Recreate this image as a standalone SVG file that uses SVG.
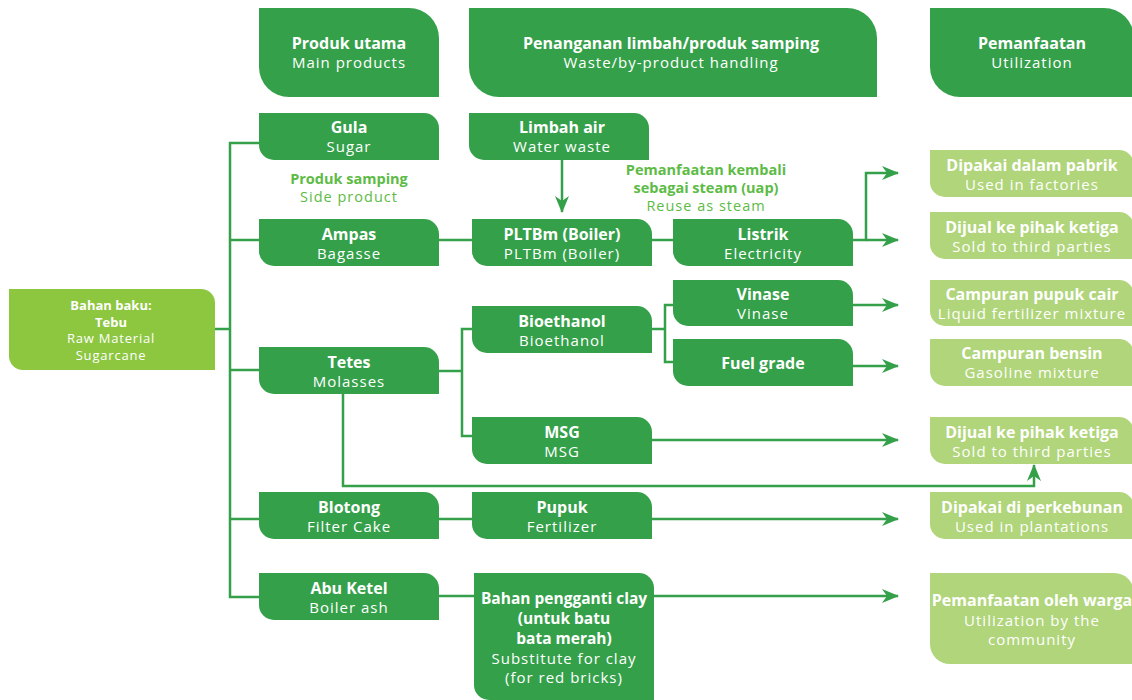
<svg xmlns="http://www.w3.org/2000/svg" width="1132" height="700" viewBox="0 0 1132 700">
  <defs>
    <marker id="arrow" markerUnits="userSpaceOnUse" markerWidth="18" markerHeight="14" refX="16" refY="7" orient="auto">
      <path d="M0,0 L17,7 L0,14 L5,7 Z" fill="#35A04A"/>
    </marker>
    <style>
      .dark { fill: #35A04A; }
      .raw { fill: #8DC63F; }
      .pale { fill: #B0D57A; }
      text { font-family: "Open Sans", "Liberation Sans", sans-serif; text-anchor: middle; fill: #ffffff; font-size: 15px; letter-spacing: 1px; }
      .b { font-weight: 700; font-size: 16px; letter-spacing: 0; }
      .sm { font-size: 13px; letter-spacing: 0.8px; }
      .b.sm { font-size: 13px; letter-spacing: 0; }
      .note { fill: #5DBB46; font-size: 14.5px; }
      .b.note { font-size: 14.5px; }
      .b.tight { font-size: 15.5px; }
      .line { fill: none; stroke: #35A04A; stroke-width: 2.5; }
    </style>
  </defs>
  <rect width="1132" height="700" fill="#ffffff"/>

  <!-- connectors -->
  <g id="connectors" class="line">
    <!-- main trunk from raw material -->
    <path d="M215,329 H230"/>
    <path d="M259,143 H230 V597 H259"/>
    <path d="M230,240 H259"/>
    <path d="M230,370 H259"/>
    <path d="M230,519 H259"/>
    <!-- water waste into boiler -->
    <path d="M562,160 V212" marker-end="url(#arrow)"/>
    <!-- bagasse chain -->
    <path d="M439,240 H472"/>
    <path d="M652,240 H673"/>
    <path d="M853,240 H866 V173 H898" marker-end="url(#arrow)"/>
    <path d="M866,240 H898" marker-end="url(#arrow)"/>
    <!-- molasses split -->
    <path d="M439,371 H462"/>
    <path d="M472,329 H462 V436 H472"/>
    <path d="M652,329 H665"/>
    <path d="M673,305 H665 V362 H673"/>
    <path d="M853,305 H898" marker-end="url(#arrow)"/>
    <path d="M853,366 H898" marker-end="url(#arrow)"/>
    <path d="M652,440 H898" marker-end="url(#arrow)"/>
    <path d="M343,394 V486 H1034 V465" marker-end="url(#arrow)"/>
    <!-- filter cake -->
    <path d="M439,519 H472"/>
    <path d="M652,519 H898" marker-end="url(#arrow)"/>
    <!-- boiler ash -->
    <path d="M439,596 H474"/>
    <path d="M654,596 H898" marker-end="url(#arrow)"/>
  </g>

  <!-- column headers -->
  <g id="hdr-main">
    <path class="dark" d="M259,8 H409 A30,30 0 0 1 439,38 V97 H289 A30,30 0 0 1 259,67 Z"/>
    <text class="b" x="349" y="49">Produk utama</text>
    <text x="349" y="68">Main products</text>
  </g>
  <g id="hdr-waste">
    <path class="dark" d="M469,8 H847 A30,30 0 0 1 877,38 V97 H499 A30,30 0 0 1 469,67 Z"/>
    <text class="b" x="671" y="49">Penanganan limbah/produk samping</text>
    <text x="671" y="68">Waste/by-product handling</text>
  </g>
  <g id="hdr-use">
    <path class="dark" d="M930,8 H1104 A30,30 0 0 1 1134,38 V97 H960 A30,30 0 0 1 930,67 Z"/>
    <text class="b" x="1032" y="49">Pemanfaatan</text>
    <text x="1032" y="68">Utilization</text>
  </g>

  <!-- raw material -->
  <g id="raw">
    <path class="raw" d="M9,289 H201 A14,14 0 0 1 215,303 V370 H23 A14,14 0 0 1 9,356 Z"/>
    <text class="b sm" x="111" y="310">Bahan baku:</text>
    <text class="b sm" x="111" y="327">Tebu</text>
    <text class="sm" x="111" y="343">Raw Material</text>
    <text class="sm" x="111" y="360">Sugarcane</text>
  </g>

  <!-- main products -->
  <g id="gula">
    <path class="dark" d="M259,113 H424 A15,15 0 0 1 439,128 V160 H274 A15,15 0 0 1 259,145 Z"/>
    <text class="b" x="349" y="133">Gula</text>
    <text x="349" y="152">Sugar</text>
  </g>
  <g id="side-label">
    <text class="b note" x="349" y="184">Produk samping</text>
    <text class="note" x="349" y="202">Side product</text>
  </g>
  <g id="ampas">
    <path class="dark" d="M259,219 H424 A15,15 0 0 1 439,234 V266 H274 A15,15 0 0 1 259,251 Z"/>
    <text class="b" x="349" y="240">Ampas</text>
    <text x="349" y="259">Bagasse</text>
  </g>
  <g id="tetes">
    <path class="dark" d="M259,347 H424 A15,15 0 0 1 439,362 V394 H274 A15,15 0 0 1 259,379 Z"/>
    <text class="b" x="349" y="368">Tetes</text>
    <text x="349" y="387">Molasses</text>
  </g>
  <g id="blotong">
    <path class="dark" d="M259,492 H424 A15,15 0 0 1 439,507 V539 H274 A15,15 0 0 1 259,524 Z"/>
    <text class="b" x="349" y="513">Blotong</text>
    <text x="349" y="532">Filter Cake</text>
  </g>
  <g id="abu-ketel">
    <path class="dark" d="M259,573 H424 A15,15 0 0 1 439,588 V620 H274 A15,15 0 0 1 259,605 Z"/>
    <text class="b" x="349" y="594">Abu Ketel</text>
    <text x="349" y="613">Boiler ash</text>
  </g>

  <!-- handling -->
  <g id="limbah-air">
    <path class="dark" d="M469,113 H634 A15,15 0 0 1 649,128 V160 H484 A15,15 0 0 1 469,145 Z"/>
    <text class="b" x="562" y="133">Limbah air</text>
    <text x="562" y="152">Water waste</text>
  </g>
  <g id="steam-label">
    <text class="b note" x="706" y="175">Pemanfaatan kembali</text>
    <text class="b note" x="706" y="193">sebagai steam (uap)</text>
    <text class="note" x="706" y="211">Reuse as steam</text>
  </g>
  <g id="pltbm">
    <path class="dark" d="M472,219 H637 A15,15 0 0 1 652,234 V266 H487 A15,15 0 0 1 472,251 Z"/>
    <text class="b" x="562" y="240">PLTBm (Boiler)</text>
    <text x="562" y="259">PLTBm (Boiler)</text>
  </g>
  <g id="listrik">
    <path class="dark" d="M673,219 H838 A15,15 0 0 1 853,234 V266 H688 A15,15 0 0 1 673,251 Z"/>
    <text class="b" x="763" y="240">Listrik</text>
    <text x="763" y="259">Electricity</text>
  </g>
  <g id="vinase">
    <path class="dark" d="M673,280 H838 A15,15 0 0 1 853,295 V326 H688 A15,15 0 0 1 673,311 Z"/>
    <text class="b" x="763" y="300">Vinase</text>
    <text x="763" y="319">Vinase</text>
  </g>
  <g id="bioethanol">
    <path class="dark" d="M472,306 H637 A15,15 0 0 1 652,321 V353 H487 A15,15 0 0 1 472,338 Z"/>
    <text class="b" x="562" y="327">Bioethanol</text>
    <text x="562" y="346">Bioethanol</text>
  </g>
  <g id="fuel-grade">
    <path class="dark" d="M673,339 H838 A15,15 0 0 1 853,354 V386 H688 A15,15 0 0 1 673,371 Z"/>
    <text class="b" x="763" y="369">Fuel grade</text>
  </g>
  <g id="msg">
    <path class="dark" d="M472,417 H637 A15,15 0 0 1 652,432 V464 H487 A15,15 0 0 1 472,449 Z"/>
    <text class="b" x="562" y="438">MSG</text>
    <text x="562" y="457">MSG</text>
  </g>
  <g id="pupuk">
    <path class="dark" d="M472,492 H637 A15,15 0 0 1 652,507 V539 H487 A15,15 0 0 1 472,524 Z"/>
    <text class="b" x="562" y="513">Pupuk</text>
    <text x="562" y="532">Fertilizer</text>
  </g>
  <g id="clay">
    <path class="dark" d="M474,573 H639 A15,15 0 0 1 654,588 V700 H489 A15,15 0 0 1 474,685 Z"/>
    <text class="b tight" x="564" y="604">Bahan pengganti clay</text>
    <text class="b tight" x="564" y="624">(untuk batu</text>
    <text class="b tight" x="564" y="644">bata merah)</text>
    <text x="564" y="664">Substitute for clay</text>
    <text x="564" y="683">(for red bricks)</text>
  </g>

  <!-- utilization -->
  <g id="use-factories">
    <path class="pale" d="M930,150 H1119 A15,15 0 0 1 1134,165 V197 H945 A15,15 0 0 1 930,182 Z"/>
    <text class="b" x="1032" y="171">Dipakai dalam pabrik</text>
    <text x="1032" y="190">Used in factories</text>
  </g>
  <g id="use-sold-1">
    <path class="pale" d="M930,212 H1119 A15,15 0 0 1 1134,227 V259 H945 A15,15 0 0 1 930,244 Z"/>
    <text class="b" x="1032" y="233">Dijual ke pihak ketiga</text>
    <text x="1032" y="252">Sold to third parties</text>
  </g>
  <g id="use-liquid">
    <path class="pale" d="M930,280 H1119 A15,15 0 0 1 1134,295 V326 H945 A15,15 0 0 1 930,311 Z"/>
    <text class="b" x="1032" y="300">Campuran pupuk cair</text>
    <text x="1032" y="319">Liquid fertilizer mixture</text>
  </g>
  <g id="use-gasoline">
    <path class="pale" d="M930,339 H1119 A15,15 0 0 1 1134,354 V386 H945 A15,15 0 0 1 930,371 Z"/>
    <text class="b" x="1032" y="359">Campuran bensin</text>
    <text x="1032" y="378">Gasoline mixture</text>
  </g>
  <g id="use-sold-2">
    <path class="pale" d="M930,417 H1119 A15,15 0 0 1 1134,432 V464 H945 A15,15 0 0 1 930,449 Z"/>
    <text class="b" x="1032" y="438">Dijual ke pihak ketiga</text>
    <text x="1032" y="457">Sold to third parties</text>
  </g>
  <g id="use-plantations">
    <path class="pale" d="M930,492 H1119 A15,15 0 0 1 1134,507 V539 H945 A15,15 0 0 1 930,524 Z"/>
    <text class="b" x="1032" y="513">Dipakai di perkebunan</text>
    <text x="1032" y="532">Used in plantations</text>
  </g>
  <g id="use-community">
    <path class="pale" d="M930,573 H1114 A20,20 0 0 1 1134,593 V664 H950 A20,20 0 0 1 930,644 Z"/>
    <text class="b" x="1032" y="606">Pemanfaatan oleh warga</text>
    <text x="1032" y="626">Utilization by the</text>
    <text x="1032" y="645">community</text>
  </g>
</svg>
